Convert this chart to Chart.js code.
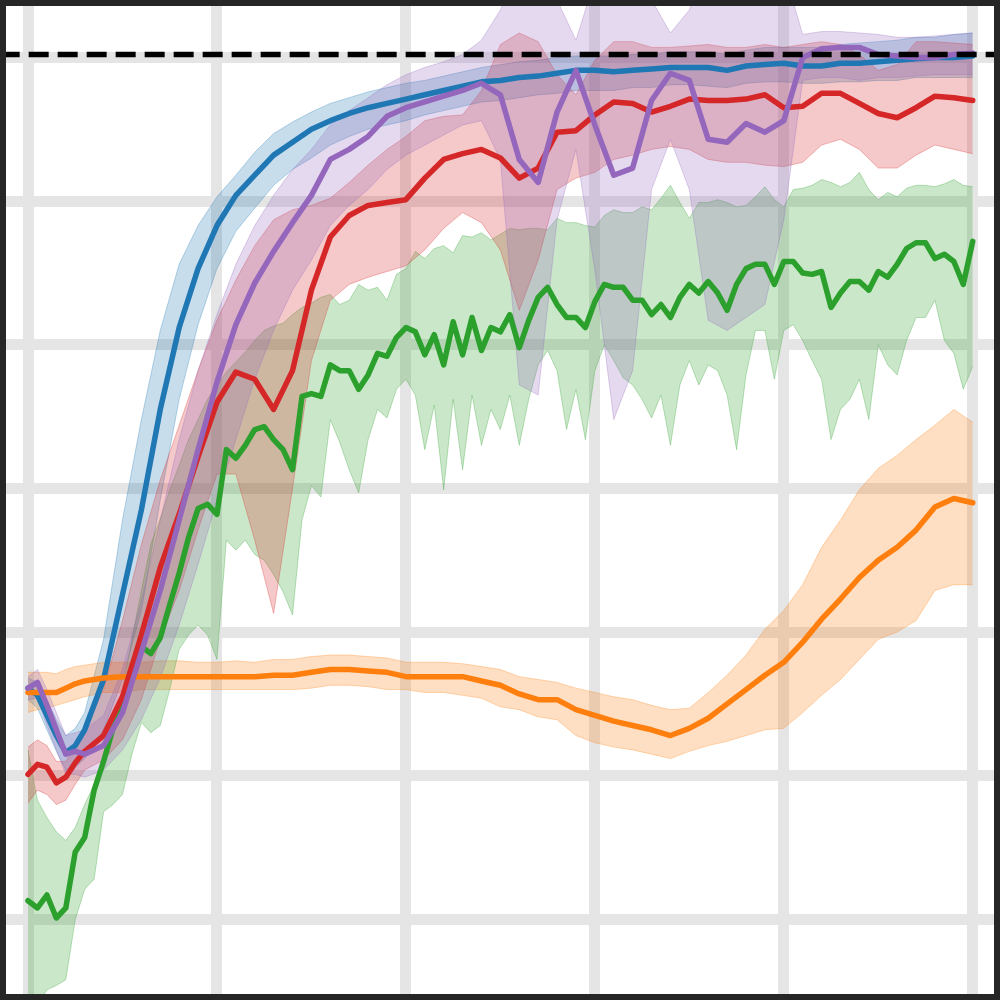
<!DOCTYPE html>
<html>
<head>
<meta charset="utf-8">
<script src="https://cdn.jsdelivr.net/npm/chart.js@4.4.1/dist/chart.umd.min.js"></script>
<style>
  html, body { margin: 0; padding: 0; background: #fff; }
  #frame { width: 988px; height: 988px; border: 6px solid #262626; }
  canvas { display: block; }
</style>
</head>
<body>
<div id="frame"><canvas id="chart" width="988" height="988"></canvas></div>
<script>
// training steps (x) shared by the smooth runs, and the denser one for the noisy run
const steps = [0, 1, 2, 3, 4, 5, 6, 8, 10, 12, 14, 16, 18, 20, 22, 24, 26, 28, 30, 32, 34, 36, 38, 40, 42, 44, 46, 48, 50,
  52, 54, 56, 58, 60, 62, 64, 66, 68, 70, 72, 74, 76, 78, 80, 82, 84, 86, 88, 90, 92, 94, 96, 98, 100];
const greenSteps = [0, 1, 2, 3, 4, 5, 6, 7, 8, 9, 10, 11, 12, 13, 14, 15, 16, 17, 18, 19, 20, 21, 22, 23, 24, 25, 26, 27, 28, 29,
  30, 31, 32, 33, 34, 35, 36, 37, 38, 39, 40, 41, 42, 43, 44, 45, 46, 47, 48, 49, 50, 51, 52, 53, 54, 55, 56, 57, 58, 59,
  60, 61, 62, 63, 64, 65, 66, 67, 68, 69, 70, 71, 72, 73, 74, 75, 76, 77, 78, 79, 80, 81, 82, 83, 84, 85, 86, 87, 88, 89,
  90, 91, 92, 93, 94, 95, 96, 97, 98, 99, 100];

const xGrid = [0, 20, 40, 60, 80, 100];
const yGrid = [0, 1, 2, 3, 4, 5, 6];
const target = 6.02;

const blueMean = [1.61, 1.56, 1.42, 1.28, 1.16, 1.21, 1.32, 1.67, 2.26, 2.85, 3.55, 4.12, 4.53, 4.83, 5.04, 5.18, 5.32, 5.41,
  5.50, 5.56, 5.61, 5.65, 5.68, 5.71, 5.74, 5.77, 5.80, 5.83, 5.84, 5.86, 5.87, 5.89, 5.91, 5.91, 5.90, 5.91, 5.92, 5.93,
  5.93, 5.93, 5.91, 5.94, 5.95, 5.96, 5.94, 5.94, 5.96, 5.96, 5.97, 5.98, 5.99, 6.00, 6.00, 6.01];
const blueHigh = [1.68, 1.65, 1.53, 1.39, 1.28, 1.33, 1.44, 1.95, 2.78, 3.48, 4.10, 4.56, 4.83, 5.03, 5.18, 5.34, 5.47, 5.55,
  5.62, 5.68, 5.72, 5.76, 5.79, 5.82, 5.84, 5.87, 5.90, 5.93, 5.95, 5.97, 5.98, 6.00, 6.01, 6.01, 6.01, 6.02, 6.02, 6.04,
  6.04, 6.04, 6.02, 6.05, 6.07, 6.07, 6.07, 6.07, 6.09, 6.10, 6.11, 6.12, 6.14, 6.14, 6.16, 6.17];
const blueLow = [1.53, 1.47, 1.32, 1.17, 1.04, 1.06, 1.12, 1.32, 1.67, 2.15, 2.92, 3.62, 4.14, 4.53, 4.79, 4.95, 5.11, 5.22,
  5.30, 5.39, 5.45, 5.50, 5.53, 5.56, 5.60, 5.63, 5.66, 5.69, 5.70, 5.72, 5.74, 5.75, 5.77, 5.77, 5.77, 5.79, 5.79, 5.81,
  5.81, 5.80, 5.79, 5.82, 5.83, 5.83, 5.82, 5.82, 5.83, 5.83, 5.84, 5.84, 5.86, 5.86, 5.86, 5.86];

const orangeMean = [1.58, 1.58, 1.58, 1.58, 1.61, 1.64, 1.66, 1.68, 1.69, 1.69, 1.69, 1.69, 1.69, 1.69, 1.69, 1.69, 1.70, 1.70,
  1.72, 1.74, 1.74, 1.73, 1.72, 1.69, 1.69, 1.69, 1.69, 1.66, 1.63, 1.57, 1.53, 1.53, 1.46, 1.42, 1.38, 1.35, 1.32, 1.28,
  1.33, 1.40, 1.50, 1.60, 1.70, 1.79, 1.93, 2.09, 2.23, 2.38, 2.50, 2.59, 2.71, 2.87, 2.93, 2.90];
const orangeHigh = [1.72, 1.72, 1.72, 1.71, 1.74, 1.76, 1.77, 1.79, 1.79, 1.79, 1.80, 1.80, 1.79, 1.79, 1.80, 1.79, 1.81, 1.81,
  1.83, 1.84, 1.84, 1.83, 1.82, 1.79, 1.79, 1.79, 1.78, 1.76, 1.74, 1.69, 1.67, 1.65, 1.61, 1.58, 1.55, 1.53, 1.49, 1.46,
  1.47, 1.58, 1.70, 1.84, 2.02, 2.15, 2.33, 2.59, 2.78, 2.99, 3.14, 3.23, 3.34, 3.44, 3.55, 3.46];
const orangeLow = [1.44, 1.46, 1.47, 1.49, 1.51, 1.53, 1.55, 1.58, 1.58, 1.60, 1.60, 1.60, 1.60, 1.60, 1.60, 1.60, 1.60, 1.60,
  1.61, 1.63, 1.63, 1.62, 1.60, 1.60, 1.58, 1.58, 1.56, 1.54, 1.48, 1.46, 1.41, 1.39, 1.28, 1.23, 1.20, 1.18, 1.15, 1.12,
  1.17, 1.21, 1.24, 1.28, 1.32, 1.33, 1.44, 1.56, 1.67, 1.81, 1.95, 2.00, 2.08, 2.29, 2.33, 2.33];

const redMean = [1.01, 1.08, 1.06, 0.95, 0.99, 1.09, 1.17, 1.28, 1.55, 1.98, 2.45, 2.82, 3.22, 3.60, 3.81, 3.76, 3.55, 3.82,
  4.38, 4.75, 4.90, 4.97, 4.99, 5.01, 5.16, 5.29, 5.33, 5.36, 5.30, 5.16, 5.23, 5.48, 5.49, 5.60, 5.69, 5.68, 5.62, 5.66,
  5.71, 5.70, 5.70, 5.71, 5.74, 5.65, 5.66, 5.75, 5.75, 5.68, 5.61, 5.58, 5.65, 5.73, 5.72, 5.70];
const redHigh = [1.20, 1.25, 1.21, 1.10, 1.10, 1.21, 1.32, 1.60, 2.08, 2.61, 3.06, 3.44, 3.82, 4.17, 4.45, 4.69, 4.87, 4.94,
  4.97, 5.02, 5.13, 5.25, 5.36, 5.45, 5.56, 5.59, 5.60, 5.77, 6.09, 6.17, 6.11, 5.88, 5.74, 5.98, 6.11, 6.11, 6.07, 6.07,
  6.08, 6.09, 6.07, 6.07, 6.09, 6.07, 6.09, 6.11, 6.09, 6.02, 5.91, 5.95, 6.11, 6.11, 6.10, 6.09];
const redLow = [0.81, 0.90, 0.87, 0.80, 0.83, 0.94, 1.04, 1.11, 1.25, 1.53, 1.95, 2.29, 2.71, 3.10, 3.10, 2.64, 2.13, 3.00,
  3.89, 4.31, 4.42, 4.47, 4.51, 4.55, 4.66, 4.81, 4.92, 4.85, 4.66, 4.24, 4.59, 5.08, 5.16, 5.20, 5.29, 5.32, 5.36, 5.38,
  5.36, 5.29, 5.27, 5.27, 5.25, 5.24, 5.27, 5.39, 5.43, 5.36, 5.23, 5.23, 5.32, 5.39, 5.36, 5.33];

const purpleMean = [1.61, 1.65, 1.49, 1.32, 1.15, 1.17, 1.15, 1.21, 1.44, 1.86, 2.29, 2.78, 3.27, 3.74, 4.14, 4.43, 4.65, 4.85,
  5.04, 5.29, 5.36, 5.45, 5.59, 5.65, 5.69, 5.73, 5.77, 5.82, 5.74, 5.29, 5.13, 5.62, 5.91, 5.53, 5.18, 5.23, 5.70, 5.89,
  5.84, 5.43, 5.41, 5.54, 5.48, 5.56, 6.00, 6.06, 6.07, 6.07, 6.02, 6.01, 6.00, 6.00, 6.02, 6.03];
const purpleHigh = [1.69, 1.74, 1.60, 1.44, 1.28, 1.30, 1.32, 1.42, 1.74, 2.22, 2.78, 3.34, 3.82, 4.21, 4.56, 4.83, 5.04, 5.22,
  5.36, 5.53, 5.63, 5.72, 5.81, 5.88, 5.93, 5.97, 6.02, 6.12, 6.33, 6.68, 6.68, 6.40, 6.12, 6.54, 6.68, 6.68, 6.40, 6.17,
  6.33, 6.68, 6.68, 6.68, 6.68, 6.61, 6.16, 6.18, 6.18, 6.17, 6.16, 6.14, 6.14, 6.15, 6.16, 6.17];
const purpleLow = [1.53, 1.54, 1.35, 1.18, 1.01, 1.01, 0.99, 1.04, 1.18, 1.39, 1.68, 2.05, 2.47, 2.92, 3.34, 3.76, 4.10, 4.38,
  4.59, 4.83, 4.97, 5.08, 5.22, 5.32, 5.39, 5.46, 5.53, 5.56, 5.29, 3.72, 3.65, 4.87, 5.36, 4.52, 3.48, 3.82, 5.08, 5.43,
  5.08, 4.17, 4.10, 4.19, 4.28, 4.87, 5.84, 5.86, 5.86, 5.84, 5.86, 5.86, 5.87, 5.88, 5.88, 5.88];

const greenMean = [0.13, 0.08, 0.17, 0.01, 0.08, 0.47, 0.57, 0.90, 1.10, 1.33, 1.47, 1.67, 1.90, 1.85, 1.96, 2.19, 2.41, 2.66,
  2.86, 2.89, 2.82, 3.27, 3.21, 3.30, 3.41, 3.43, 3.34, 3.27, 3.13, 3.64, 3.66, 3.64, 3.86, 3.82, 3.82, 3.69, 3.79, 3.94,
  3.92, 4.05, 4.12, 4.09, 3.93, 4.07, 3.86, 4.16, 3.93, 4.19, 3.96, 4.12, 4.09, 4.21, 3.98, 4.17, 4.33, 4.40, 4.28, 4.19,
  4.19, 4.12, 4.30, 4.42, 4.40, 4.40, 4.31, 4.31, 4.21, 4.28, 4.19, 4.33, 4.42, 4.36, 4.44, 4.36, 4.24, 4.42, 4.53, 4.56,
  4.56, 4.42, 4.58, 4.58, 4.50, 4.49, 4.51, 4.26, 4.36, 4.44, 4.44, 4.38, 4.51, 4.47, 4.56, 4.67, 4.71, 4.71, 4.60, 4.63,
  4.58, 4.42, 4.72];
const greenHigh = [1.18, 0.83, 0.71, 0.61, 0.55, 0.64, 0.80, 0.94, 1.11, 1.35, 1.60, 1.95, 2.29, 2.61, 2.79, 2.99, 3.16, 3.34,
  3.48, 3.62, 3.72, 3.81, 3.88, 3.95, 4.03, 4.10, 4.13, 4.15, 4.21, 4.26, 4.29, 4.33, 4.35, 4.28, 4.31, 4.42, 4.38, 4.40,
  4.31, 4.49, 4.53, 4.65, 4.60, 4.67, 4.69, 4.64, 4.76, 4.75, 4.78, 4.73, 4.77, 4.81, 4.80, 4.81, 4.81, 4.80, 4.88, 4.85,
  4.85, 4.83, 4.82, 4.90, 4.94, 4.92, 4.92, 4.96, 4.94, 5.02, 5.11, 4.99, 4.88, 4.99, 4.99, 5.01, 4.99, 4.96, 4.97, 5.03,
  5.10, 5.01, 4.96, 5.08, 5.09, 5.11, 5.15, 5.13, 5.10, 5.13, 5.20, 5.08, 5.01, 5.06, 5.03, 5.09, 5.11, 5.11, 5.10, 5.12,
  5.15, 5.11, 5.10];
const greenLow = [-0.63, -0.59, -0.49, -0.46, -0.42, 0.00, 0.21, 0.28, 0.75, 0.80, 0.87, 1.15, 1.37, 1.30, 1.35, 1.60, 1.88,
  1.98, 2.05, 1.98, 1.81, 2.64, 2.57, 2.64, 2.54, 2.50, 2.40, 2.28, 2.12, 2.78, 3.02, 2.94, 3.48, 3.32, 3.13, 2.97, 3.34,
  3.55, 3.49, 3.69, 3.76, 3.65, 3.27, 3.58, 2.99, 3.62, 3.13, 3.65, 3.30, 3.55, 3.41, 3.65, 3.30, 3.62, 3.86, 3.96, 3.82,
  3.41, 3.69, 3.34, 3.82, 4.00, 3.89, 3.77, 3.72, 3.62, 3.49, 3.65, 3.30, 3.72, 3.89, 3.72, 3.86, 3.82, 3.65, 3.27, 3.79,
  4.10, 4.10, 3.76, 4.10, 4.14, 4.03, 3.89, 3.76, 3.34, 3.55, 3.62, 3.76, 3.48, 4.00, 3.86, 3.79, 4.03, 4.19, 4.19, 4.31,
  4.03, 3.94, 3.69, 3.85];

const pts = (xs, ys) => xs.map((x, i) => ({ x: x, y: ys[i] }));

function meanLine(xs, ys, color) {
  return {
    data: pts(xs, ys),
    borderColor: color,
    borderWidth: 5.5,
    borderJoinStyle: "round",
    borderCapStyle: "round",
    pointRadius: 0,
    fill: false,
  };
}

function band(xs, hi, lo, rgb) {
  return [
    {
      data: pts(xs, hi),
      borderColor: "rgba(" + rgb + ",0.3)",
      borderWidth: 1,
      pointRadius: 0,
      backgroundColor: "rgba(" + rgb + ",0.25)",
      fill: "+1",
    },
    {
      data: pts(xs, lo),
      borderColor: "rgba(" + rgb + ",0.3)",
      borderWidth: 1,
      pointRadius: 0,
      fill: false,
    },
  ];
}

// first dataset is drawn on top, so lines come before the bands
const datasets = [
  {
    data: [{ x: -3, y: target }, { x: 104, y: target }],
    borderColor: "#000",
    borderWidth: 5.5,
    borderDash: [20, 9],
    pointRadius: 0,
    fill: false,
  },
  meanLine(steps, purpleMean, "#9467bd"),
  meanLine(steps, redMean, "#d62728"),
  meanLine(greenSteps, greenMean, "#2ca02c"),
  meanLine(steps, orangeMean, "#ff7f0e"),
  meanLine(steps, blueMean, "#1f77b4"),
  ...band(steps, purpleHigh, purpleLow, "148,103,189"),
  ...band(steps, redHigh, redLow, "214,39,40"),
  ...band(greenSteps, greenHigh, greenLow, "44,160,44"),
  ...band(steps, orangeHigh, orangeLow, "255,127,14"),
  ...band(steps, blueHigh, blueLow, "31,119,180"),
];

new Chart(document.getElementById("chart").getContext("2d"), {
  type: "line",
  data: { datasets: datasets },
  options: {
    responsive: false,
    animation: false,
    devicePixelRatio: 1,
    layout: { padding: 0 },
    elements: { line: { tension: 0 } },
    plugins: {
      legend: { display: false },
      tooltip: { enabled: false },
    },
    scales: {
      x: {
        type: "linear",
        min: -2.329,
        max: 102.25,
        afterBuildTicks: (s) => { s.ticks = xGrid.map((v) => ({ value: v })); },
        afterFit: (s) => { s.height = 0; },
        ticks: { display: false },
        grid: { color: "#e5e5e5", lineWidth: 11, drawTicks: false },
        border: { display: false },
      },
      y: {
        type: "linear",
        min: -0.519,
        max: 6.358,
        afterBuildTicks: (s) => { s.ticks = yGrid.map((v) => ({ value: v })); },
        afterFit: (s) => { s.width = 0; },
        ticks: { display: false },
        grid: { color: "#e5e5e5", lineWidth: 11, drawTicks: false },
        border: { display: false },
      },
    },
  },
});
</script>
</body>
</html>
